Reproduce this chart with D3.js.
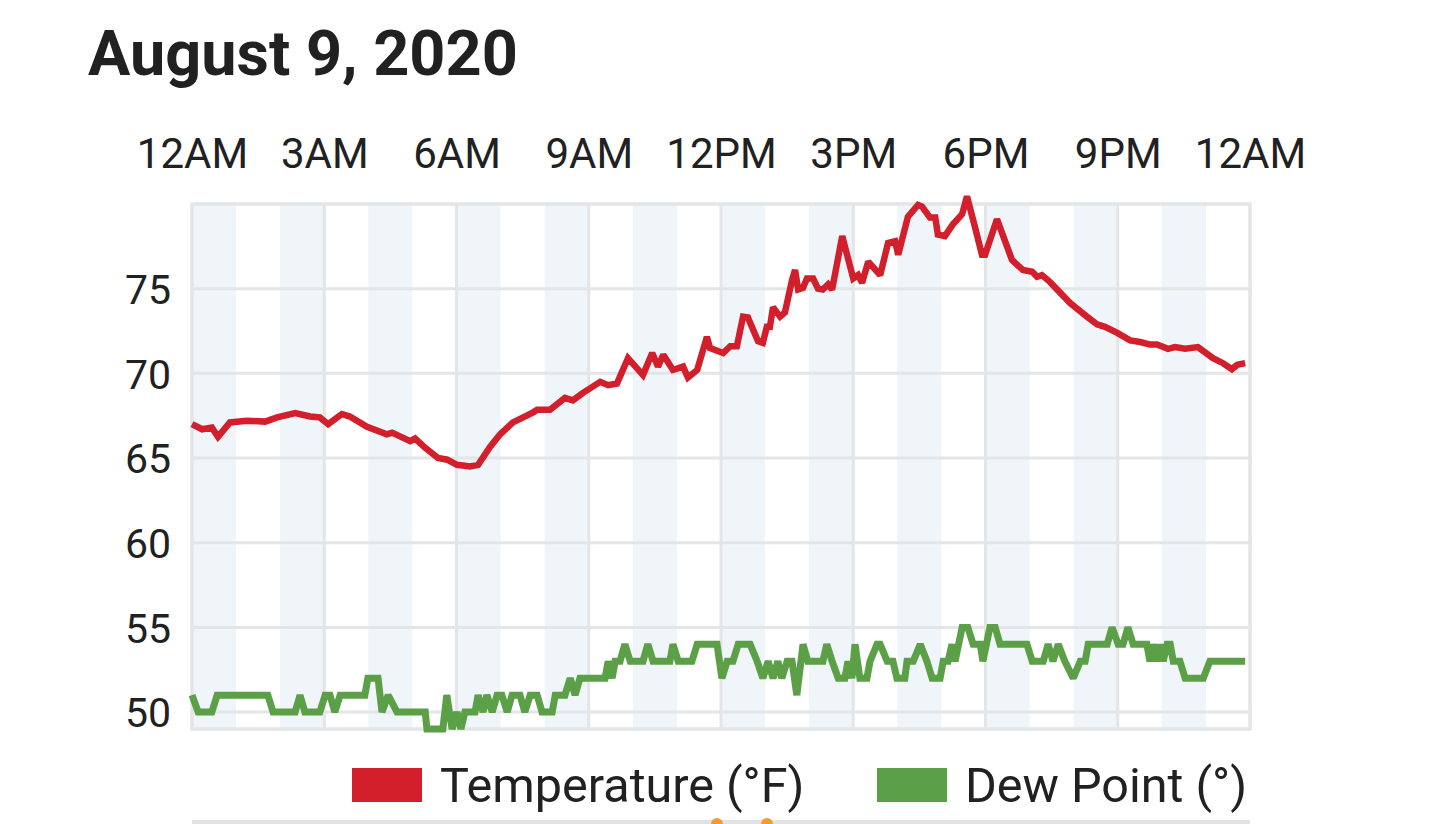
<!DOCTYPE html>
<html>
<head>
<meta charset="utf-8">
<script src="https://cdn.jsdelivr.net/npm/d3@7/dist/d3.min.js"></script>
<style>
  html, body { margin: 0; padding: 0; background: #fff; }
  svg { display: block; font-family: Roboto, "Noto Sans", sans-serif; }
</style>
</head>
<body>
<svg id="chart" width="1439" height="824"></svg>
<script>
// ---- data (hours after midnight, values) ----
const titleText = "August 9, 2020";
const xTickHours = [0, 3, 6, 9, 12, 15, 18, 21, 24];
const xTickLabels = ["12AM", "3AM", "6AM", "9AM", "12PM", "3PM", "6PM", "9PM", "12AM"];
const yTicks = [50, 55, 60, 65, 70, 75];
const shadedHours = [0, 2, 4, 6, 8, 10, 12, 14, 16, 18, 20, 22];
const seriesNames = ["Temperature (°F)", "Dew Point (°)"];

const tempHours = [0.00,0.23,0.45,0.59,0.86,1.25,1.66,1.93,2.34,2.68,2.90,3.09,3.40,3.58,3.97,4.42,4.54,4.95,5.06,5.29,5.58,5.79,6.01,6.31,6.49,6.76,6.99,7.28,7.74,7.83,8.12,8.46,8.64,8.87,9.26,9.44,9.64,9.89,10.23,10.44,10.57,10.69,10.91,11.14,11.25,11.46,11.68,11.75,12.05,12.21,12.36,12.50,12.61,12.84,12.95,13.04,13.11,13.18,13.34,13.45,13.61,13.68,13.75,13.86,13.95,14.09,14.20,14.31,14.43,14.52,14.75,15.00,15.11,15.20,15.34,15.56,15.61,15.79,15.95,16.02,16.24,16.47,16.56,16.74,16.86,16.92,17.08,17.26,17.47,17.58,17.76,17.92,17.99,18.26,18.60,18.85,19.06,19.17,19.28,19.46,19.92,20.30,20.53,20.71,20.98,21.28,21.51,21.73,21.89,22.14,22.30,22.53,22.82,23.16,23.39,23.59,23.71,23.89];
const tempValues = [67.0,66.7,66.8,66.25,67.1,67.2,67.15,67.4,67.65,67.45,67.4,67.0,67.6,67.45,66.85,66.4,66.5,66.0,66.15,65.6,65.0,64.9,64.6,64.5,64.6,65.65,66.4,67.1,67.7,67.85,67.85,68.55,68.4,68.85,69.5,69.3,69.4,70.9,69.9,71.2,70.4,71.1,70.2,70.4,69.75,70.2,72.15,71.5,71.2,71.6,71.6,73.35,73.3,71.9,71.8,72.75,72.75,73.9,73.35,73.6,75.5,76.1,74.95,75.05,75.6,75.6,75.0,74.95,75.25,74.95,78.1,75.6,75.8,75.35,76.6,75.95,75.8,77.7,77.8,77.0,79.25,79.95,79.85,79.2,79.2,78.2,78.1,78.8,79.4,80.45,78.65,77.0,77.0,79.1,76.7,76.1,76.0,75.7,75.8,75.4,74.15,73.35,72.9,72.75,72.4,71.95,71.85,71.7,71.7,71.45,71.55,71.45,71.55,70.9,70.6,70.25,70.5,70.6];

const dewHours = [0.00,0.14,0.45,0.57,1.72,1.84,2.34,2.45,2.56,2.90,3.02,3.13,3.24,3.36,3.92,3.99,4.22,4.31,4.45,4.65,5.29,5.33,5.69,5.78,5.90,6.01,6.10,6.19,6.42,6.49,6.60,6.69,6.81,6.92,7.03,7.15,7.26,7.44,7.55,7.67,7.83,7.94,8.17,8.24,8.46,8.58,8.69,8.80,9.37,9.44,9.53,9.60,9.71,9.82,9.94,10.23,10.34,10.46,10.84,10.91,11.03,11.34,11.46,11.91,12.02,12.14,12.27,12.39,12.66,12.82,12.95,13.07,13.18,13.29,13.38,13.50,13.61,13.72,13.86,13.97,14.31,14.40,14.52,14.66,14.81,14.88,14.97,15.04,15.15,15.31,15.38,15.54,15.61,15.77,15.90,15.99,16.17,16.22,16.36,16.52,16.67,16.79,16.97,17.04,17.15,17.24,17.31,17.47,17.60,17.72,17.88,17.94,18.10,18.22,18.33,18.94,19.06,19.31,19.42,19.53,19.65,19.80,19.99,20.15,20.26,20.33,20.76,20.87,21.01,21.12,21.23,21.35,21.66,21.73,21.80,21.89,21.96,22.03,22.12,22.19,22.26,22.41,22.53,22.94,23.09,23.89];
const dewValues = [51,50,50,51,51,50,50,51,50,50,51,51,50,51,51,52,52,50,51,50,50,49,49,51,49,50,49,50,50,51,50,51,50,51,51,50,51,51,50,51,51,50,50,51,51,52,51,52,52,53,52,53,53,54,53,53,54,53,53,54,53,53,54,54,52,53,53,54,54,53,52,53,52,53,52,53,53,51,54,53,53,54,53,52,52,53,52,54,52,52,53,54,54,53,53,52,52,53,53,54,53,52,52,53,53,54,53,55,55,54,54,53,55,55,54,54,53,53,54,53,54,53,52,53,53,54,54,55,54,54,55,54,54,53,54,53,54,53,54,54,53,53,52,52,53,53];

// ---- layout ----
const svg = d3.select("#chart");
const plotLeft = 192, plotRight = 1250, plotTop = 204, plotBottom = 729;
const x = d3.scaleLinear().domain([0, 24]).range([plotLeft, plotRight]);
const y = d3.scaleLinear().domain([49, 80]).range([plotBottom, plotTop]);
const colors = ["#d31f2b", "#5b9f47"];
const gridColor = "#e4e5e7";
const textColor = "#212121";

// title
svg.append("text").attr("x", 88).attr("y", 75)
  .attr("font-size", 63).attr("font-weight", 700).attr("fill", textColor)
  .text(titleText);

// shaded hourly bands
svg.append("g").selectAll("rect").data(shadedHours).join("rect")
  .attr("x", d => x(d)).attr("y", plotTop)
  .attr("width", d => x(d + 1) - x(d)).attr("height", plotBottom - plotTop)
  .attr("fill", "#f0f5fa");

// horizontal grid
svg.append("g").selectAll("line").data(yTicks).join("line")
  .attr("x1", plotLeft).attr("x2", plotRight)
  .attr("y1", d => y(d)).attr("y2", d => y(d))
  .attr("stroke", gridColor).attr("stroke-width", 3);

// vertical grid
svg.append("g").selectAll("line").data(xTickHours.slice(1, -1)).join("line")
  .attr("x1", d => x(d)).attr("x2", d => x(d))
  .attr("y1", plotTop).attr("y2", plotBottom)
  .attr("stroke", gridColor).attr("stroke-width", 3);

// frame
svg.append("rect").attr("x", plotLeft).attr("y", plotTop)
  .attr("width", plotRight - plotLeft).attr("height", plotBottom - plotTop)
  .attr("fill", "none").attr("stroke", gridColor).attr("stroke-width", 3.5);

// x axis on top (labels only)
const xAxis = d3.axisTop(x).tickValues(xTickHours)
  .tickFormat((d, i) => xTickLabels[i]).tickSize(0).tickPadding(0);
const gx = svg.append("g").attr("transform", `translate(0,168)`).call(xAxis);
gx.select(".domain").remove();
gx.selectAll("text").attr("font-size", 42).attr("fill", textColor)
  .attr("font-family", "Roboto, sans-serif").attr("dy", 0);

// y axis labels
const yAxis = d3.axisLeft(y).tickValues(yTicks).tickSize(0).tickPadding(0);
const gy = svg.append("g").attr("transform", `translate(171,0)`).call(yAxis);
gy.select(".domain").remove();
gy.selectAll("text").attr("font-size", 41).attr("fill", textColor)
  .attr("font-family", "Roboto, sans-serif").attr("dy", "0.36em");

// lines
const tempData = tempHours.map((h, i) => ({ h, v: tempValues[i] }));
const dewData = dewHours.map((h, i) => ({ h, v: dewValues[i] }));
const line = d3.line().x(d => x(d.h)).y(d => y(d.v));

svg.append("path").datum(dewData).attr("d", line)
  .attr("fill", "none").attr("stroke", colors[1]).attr("stroke-width", 7)
  .attr("stroke-linejoin", "miter").attr("stroke-miterlimit", 2);
svg.append("path").datum(tempData).attr("d", line)
  .attr("fill", "none").attr("stroke", colors[0]).attr("stroke-width", 6.5)
  .attr("stroke-linejoin", "miter").attr("stroke-miterlimit", 2);

// legend
const legendX = [352, 877];
const lg = svg.append("g").selectAll("g").data(seriesNames).join("g")
  .attr("transform", (d, i) => `translate(${legendX[i]},768)`);
lg.append("rect").attr("width", 70).attr("height", 34)
  .attr("fill", (d, i) => colors[i]);
lg.append("text").attr("x", 88).attr("y", 34)
  .attr("font-size", 48.5).attr("fill", textColor).text(d => d);

// bottom edge of next card (decor)
svg.append("line").attr("x1", plotLeft).attr("x2", plotRight).attr("y1", 822).attr("y2", 822)
  .attr("stroke", "#e2e2e2").attr("stroke-width", 4);
svg.append("g").selectAll("circle").data([717, 767]).join("circle")
  .attr("cx", d => d).attr("cy", 824).attr("r", 6).attr("fill", "#f39a33");
</script>
</body>
</html>
